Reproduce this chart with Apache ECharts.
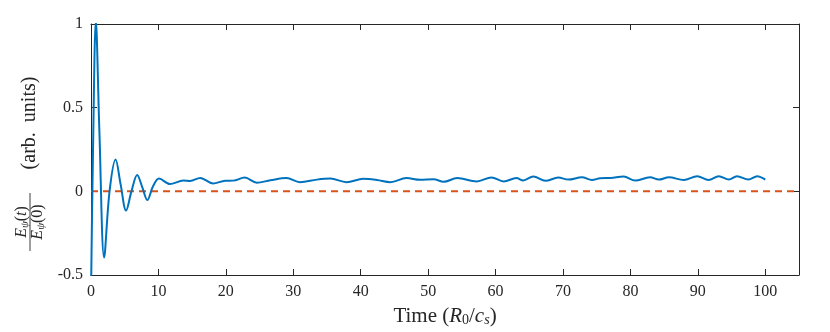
<!DOCTYPE html>
<html>
<head>
<meta charset="utf-8">
<script src="https://cdn.jsdelivr.net/npm/echarts@6/dist/echarts.min.js"></script>
<style>
  html, body { margin: 0; padding: 0; background: #fff; }
  #chart { width: 830px; height: 332px; }
</style>
</head>
<body>
<div id="chart"></div>
<script>
// time samples (R0/cs) and normalised energy
const timeValues = [
  0, 0.3, 0.72, 1.25, 1.95, 2.75, 3.65, 4.4, 5.2, 6.0, 6.85, 7.6, 8.35, 9.2, 10.1,
  11.7, 13.7, 14.7, 16.2, 18.1, 19.9, 21.1, 22.8, 24.6, 26.6, 29.0, 31.0, 33.5,
  35.5, 37.9, 40.4, 42.4, 44.4, 46.8, 48.8, 50.8, 52.3, 54.3, 57.2, 59.4, 61.2,
  63.1, 64.1, 65.6, 67.4, 69.3, 70.8, 72.8, 74.3, 75.5, 77.1, 79.0, 80.7, 82.9,
  84.2, 85.7, 87.9, 89.9, 91.6, 93.1, 94.6, 95.8, 97.5, 98.8, 100
];
const energyValues = [
  -0.62, 0.25, 1.02, 0.35, -0.395, 0.0, 0.19, 0.04, -0.115, 0.0, 0.097, 0.025, -0.052, 0.03, 0.076,
  0.044, 0.064, 0.062, 0.08, 0.047, 0.063, 0.064, 0.082, 0.052, 0.066, 0.079, 0.055, 0.07,
  0.076, 0.055, 0.075, 0.068, 0.055, 0.079, 0.069, 0.072, 0.057, 0.079, 0.059, 0.083, 0.059,
  0.079, 0.065, 0.089, 0.063, 0.082, 0.07, 0.084, 0.068, 0.078, 0.08, 0.088, 0.064, 0.084,
  0.07, 0.084, 0.068, 0.09, 0.068, 0.09, 0.07, 0.09, 0.07, 0.09, 0.07
];
const xTicks = [0, 10, 20, 30, 40, 50, 60, 70, 80, 90, 100];
const yTicks = [-0.5, 0, 0.5, 1];
const refLine = [[0, 0], [105, 0]];

const axisColor = "#262626";
const serif = "'Liberation Serif', 'DejaVu Serif', serif";

const chart = echarts.init(document.getElementById("chart"));

const boxAxis = {
  axisLine: { show: true, onZero: false, lineStyle: { color: axisColor, width: 1 } },
  axisTick: { show: true, inside: true, length: 6, lineStyle: { color: axisColor } },
  splitLine: { show: false },
};

const fracRich = {
  i: { fontFamily: serif, fontSize: 16, fontStyle: "italic", fill: axisColor },
  n: { fontFamily: serif, fontSize: 16, fill: axisColor },
  s: { fontFamily: serif, fontSize: 11, fontStyle: "italic", fill: axisColor, padding: [6, 0, 0, 0] },
};

chart.setOption({
  animation: false,
  grid: { left: 91, right: 31, top: 24, bottom: 55 },
  xAxis: [
    {
      ...boxAxis,
      type: "value",
      min: 0,
      max: 105,
      interval: 10,
      axisLabel: {
        color: axisColor,
        fontFamily: serif,
        fontSize: 16,
        margin: 9,
        formatter: (v) => (xTicks.includes(v) ? String(v) : ""),
      },
      name: "{n|Time (}{i|R}{s|0}{n|/}{i|c}{si|s}{n|)}",
      nameLocation: "middle",
      nameGap: 31,
      nameTextStyle: {
        rich: {
          n: { fontFamily: serif, fontSize: 21, color: axisColor },
          i: { fontFamily: serif, fontSize: 21, fontStyle: "italic", color: axisColor },
          s: { fontFamily: serif, fontSize: 14, color: axisColor, verticalAlign: "bottom", padding: [7, 0, 0, 0] },
          si: { fontFamily: serif, fontSize: 14, fontStyle: "italic", color: axisColor, verticalAlign: "bottom", padding: [7, 0, 0, 0] },
        },
      },
    },
    {
      ...boxAxis,
      type: "value",
      position: "top",
      min: 0,
      max: 105,
      interval: 10,
      axisLabel: { show: false },
    },
  ],
  yAxis: [
    {
      ...boxAxis,
      type: "value",
      min: -0.5,
      max: 1,
      interval: 0.5,
      axisLabel: {
        color: axisColor,
        fontFamily: serif,
        fontSize: 16,
        margin: 8,
        formatter: (v) => (yTicks.includes(v) ? String(v) : ""),
      },
    },
    {
      ...boxAxis,
      type: "value",
      position: "right",
      min: -0.5,
      max: 1,
      interval: 0.5,
      axisLabel: { show: false },
    },
  ],
  graphic: [
    {
      type: "text",
      x: 30,
      y: 123,
      rotation: Math.PI / 2,
      style: {
        x: 0, y: 0,
        text: "(arb.  units)",
        font: "20px " + serif,
        fill: axisColor,
        align: "center",
        verticalAlign: "middle",
      },
    },
    {
      type: "text",
      x: 22,
      y: 222,
      rotation: Math.PI / 2,
      style: { x: 0, y: 0, text: "{i|E}{s|ψ}{n|(}{i|t}{n|)}", align: "center", verticalAlign: "middle", rich: fracRich },
    },
    {
      type: "line",
      shape: { x1: 30, y1: 193, x2: 30, y2: 251 },
      style: { stroke: axisColor, lineWidth: 0.9 },
    },
    {
      type: "text",
      x: 38,
      y: 222,
      rotation: Math.PI / 2,
      style: { x: 0, y: 0, text: "{i|E}{s|ψ}{n|(0)}", align: "center", verticalAlign: "middle", rich: fracRich },
    },
  ],
  series: [
    {
      type: "line",
      data: refLine,
      symbol: "none",
      lineStyle: { color: "#D95319", width: 2, type: [7, 5] },
      z: 2,
    },
    {
      type: "line",
      data: timeValues.map((t, i) => [t, energyValues[i]]),
      symbol: "none",
      smooth: 0.35,
      clip: true,
      lineStyle: { color: "#0072BD", width: 2 },
      z: 3,
    },
  ],
});
</script>
</body>
</html>
